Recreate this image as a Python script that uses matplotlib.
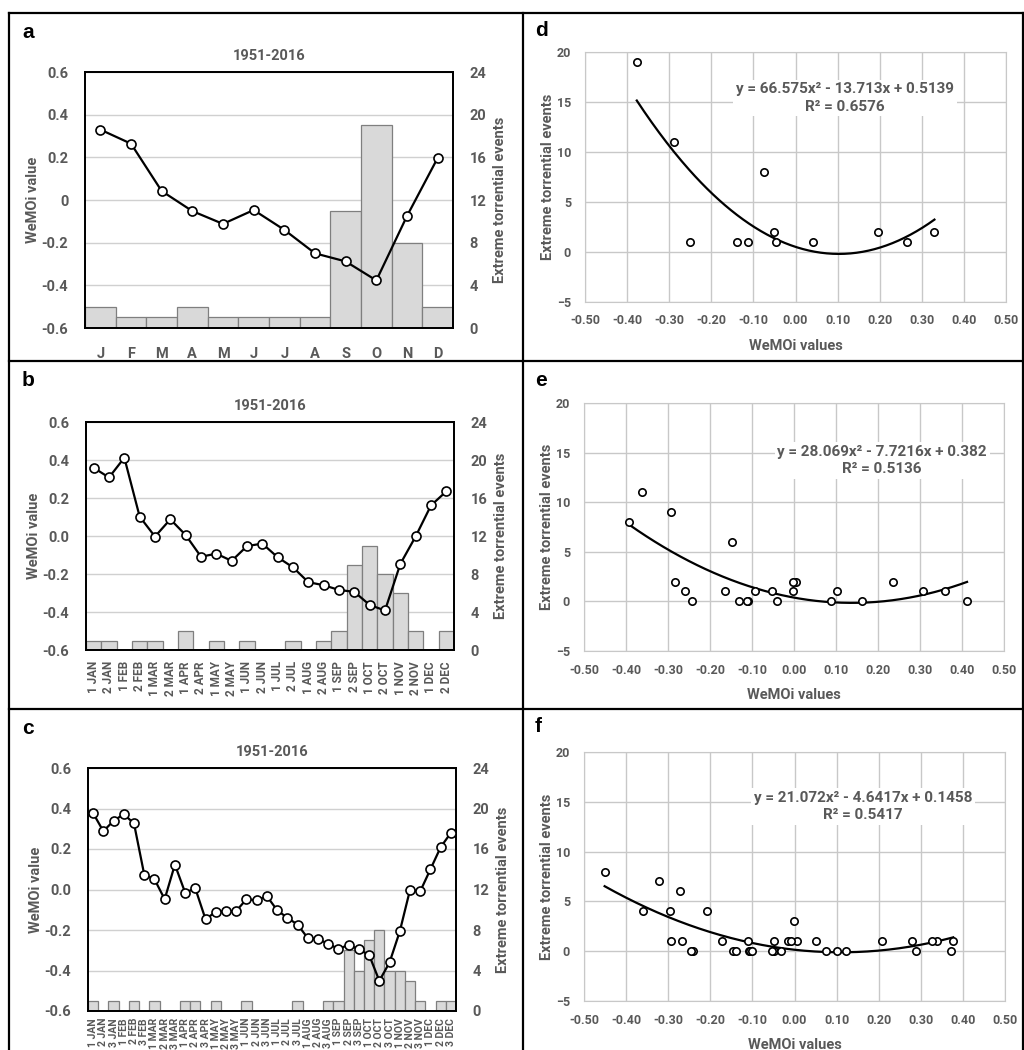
import numpy as np
import matplotlib.pyplot as plt
from matplotlib.lines import Line2D

plt.rcParams['font.family'] = ['Roboto', 'DejaVu Sans']
plt.rcParams['font.weight'] = 'bold'
plt.rcParams['axes.labelweight'] = 'bold'
plt.rcParams['axes.titleweight'] = 'bold'

GRAY = '#595959'

# --- monthly series (panel a / d)
months = ['J', 'F', 'M', 'A', 'M', 'J', 'J', 'A', 'S', 'O', 'N', 'D']
wemoi_month = [0.330, 0.264, 0.042, -0.052, -0.112, -0.047, -0.140, -0.250,
               -0.288, -0.377, -0.075, 0.197]
events_month = [2, 1, 1, 2, 1, 1, 1, 1, 11, 19, 8, 2]

# --- fortnightly series (panel b / e)
fortnights = ['1 JAN', '2 JAN', '1 FEB', '2 FEB', '1 MAR', '2 MAR', '1 APR', '2 APR',
              '1 MAY', '2 MAY', '1 JUN', '2 JUN', '1 JUL', '2 JUL', '1 AUG', '2 AUG',
              '1 SEP', '2 SEP', '1 OCT', '2 OCT', '1 NOV', '2 NOV', '1 DEC', '2 DEC']
wemoi_fortnight = [0.359, 0.308, 0.412, 0.102, -0.003, 0.088, 0.005, -0.109,
                   -0.093, -0.131, -0.053, -0.040, -0.112, -0.165, -0.243, -0.259,
                   -0.284, -0.294, -0.363, -0.392, -0.147, -0.002, 0.161, 0.235]
events_fortnight = [1, 1, 0, 1, 1, 0, 2, 0, 1, 0, 1, 0, 0, 1, 0, 1,
                    2, 9, 11, 8, 6, 2, 0, 2]

# --- ten-day series (panel c / f)
decades = ['1 JAN', '2 JAN', '3 JAN', '1 FEB', '2 FEB', '3 FEB', '1 MAR', '2 MAR', '3 MAR',
           '1 APR', '2 APR', '3 APR', '1 MAY', '2 MAY', '3 MAY', '1 JUN', '2 JUN', '3 JUN',
           '1 JUL', '2 JUL', '3 JUL', '1 AUG', '2 AUG', '3 AUG', '1 SEP', '2 SEP', '3 SEP',
           '1 OCT', '2 OCT', '3 OCT', '1 NOV', '2 NOV', '3 NOV', '1 DEC', '2 DEC', '3 DEC']
wemoi_decade = [0.377, 0.288, 0.339, 0.372, 0.326, 0.074, 0.051, -0.048, 0.123,
                -0.015, 0.005, -0.147, -0.110, -0.108, -0.106, -0.048, -0.053, -0.033,
                -0.102, -0.140, -0.173, -0.240, -0.245, -0.268, -0.294, -0.273, -0.296,
                -0.323, -0.451, -0.360, -0.207, -0.002, -0.009, 0.100, 0.209, 0.280]
events_decade = [1, 0, 1, 0, 1, 0, 1, 0, 0, 1, 1, 0, 1, 0, 0, 1, 0, 0,
                 0, 0, 1, 0, 0, 1, 1, 6, 4, 7, 8, 4, 4, 3, 1, 0, 1, 1]

# trendline coefficients as printed on the chart
coef_month = [66.575, -13.713, 0.5139]
coef_fortnight = [28.069, -7.7216, 0.382]
coef_decade = [21.072, -4.6417, 0.1458]
eq_month = 'y = 66.575x² - 13.713x + 0.5139\nR² = 0.6576'
eq_fortnight = 'y = 28.069x² - 7.7216x + 0.382\nR² = 0.5136'
eq_decade = 'y = 21.072x² - 4.6417x + 0.1458\nR² = 0.5417'

W, H = 1024, 1050
fig = plt.figure(figsize=(W / 100, H / 100), dpi=100)


def rect(x0, y0, x1, y1):
    # pixel box -> figure fraction
    return [x0 / W, 1 - y1 / H, (x1 - x0) / W, (y1 - y0) / H]


def series_panel(box, labels, wemoi, events, yfmt, xsize, rot, xpad):
    ax = fig.add_axes(rect(*box))
    axb = ax.twinx()
    x = np.arange(len(labels))
    axb.bar(x, events, width=1.0, color='#d9d9d9', edgecolor='#7f7f7f', linewidth=0.9, zorder=2)
    axb.set_ylim(0, 24)
    axb.set_yticks(range(0, 25, 4))
    axb.yaxis.grid(True, color='#d0d0d0', lw=1.0, zorder=0)
    axb.set_axisbelow(True)
    axb.tick_params(axis='y', length=0, pad=12, labelsize=10.5, labelcolor=GRAY)
    axb.set_ylabel('Extreme torrential events', color=GRAY, fontsize=10.5, labelpad=5)

    ax.set_zorder(axb.get_zorder() + 1)
    ax.patch.set_visible(False)
    ax.plot(x, wemoi, color='black', lw=1.6, marker='o', ms=6.5,
            mfc='white', mec='black', mew=1.2, zorder=3)
    ax.set_ylim(-0.6, 0.6)
    ax.set_xlim(-0.5, len(labels) - 0.5)
    yt = [0.6, 0.4, 0.2, 0.0, -0.2, -0.4, -0.6]
    ax.set_yticks(yt)
    ax.set_yticklabels([yfmt(v) for v in yt])
    ax.set_xticks(x)
    ax.set_xticklabels(labels, rotation=rot, fontsize=xsize, color=GRAY)
    ax.tick_params(axis='x', length=0, pad=xpad)
    ax.tick_params(axis='y', length=0, pad=12, labelsize=10.5, labelcolor=GRAY)
    ax.set_ylabel('WeMOi value', color=GRAY, fontsize=10.5, labelpad=1)
    ax.set_title('1951-2016', color=GRAY, fontsize=10.5, pad=9)
    for a in (ax, axb):
        for s in a.spines.values():
            s.set_color('black')
            s.set_linewidth(1.3)
    return ax


def scatter_panel(box, xs, ys, coef, eq, eq_pos):
    ax = fig.add_axes(rect(*box))
    ax.scatter(xs, ys, s=28, facecolors='white', edgecolors='black', linewidths=1.2, zorder=3)
    xf = np.linspace(min(xs), max(xs), 200)
    ax.plot(xf, np.polyval(coef, xf), color='black', lw=1.6, zorder=2)
    ax.set_xlim(-0.5, 0.5)
    ax.set_ylim(-5, 20)
    xt = np.round(np.arange(-0.5, 0.51, 0.1), 2)
    ax.set_xticks(xt)
    ax.set_xticklabels(['%.2f' % (v + 0.0) for v in xt])
    ax.set_yticks(range(-5, 21, 5))
    ax.grid(True, color='#c8c8c8', lw=1.0, zorder=0)
    ax.set_axisbelow(True)
    ax.tick_params(length=0, labelsize=9, labelcolor=GRAY)
    ax.tick_params(axis='x', pad=9)
    ax.tick_params(axis='y', pad=10)
    for s in ax.spines.values():
        s.set_color('#c8c8c8')
    ax.set_xlabel('WeMOi values', color=GRAY, fontsize=10.5, labelpad=8)
    ax.set_ylabel('Extreme torrential events', color=GRAY, fontsize=10.5, labelpad=1)
    ax.text(eq_pos[0], eq_pos[1], eq, ha='center', va='center', color=GRAY, fontsize=11,
            fontweight='bold', linespacing=1.3, zorder=4,
            bbox=dict(facecolor='white', edgecolor='none', pad=2))
    return ax


series_panel((85, 72, 453, 328), months, wemoi_month, events_month,
             lambda v: '0' if v == 0 else '%.1f' % v, 10.5, 0, 14)
series_panel((86, 422, 454, 650), fortnights, wemoi_fortnight, events_fortnight,
             lambda v: '%.1f' % v, 8.5, 90, 8)
series_panel((88, 768, 456, 1011), decades, wemoi_decade, events_decade,
             lambda v: '%.1f' % v, 7.5, 90, 5)

scatter_panel((585, 52, 1006, 302), wemoi_month, events_month, coef_month, eq_month, (0.118, 15.4))
scatter_panel((584, 403, 1004, 651), wemoi_fortnight, events_fortnight, coef_fortnight, eq_fortnight, (0.21, 14.2))
scatter_panel((584, 752, 1005, 1001), wemoi_decade, events_decade, coef_decade, eq_decade, (0.163, 14.5))

# panel letters
for letter, (px, py) in zip('abcdef', [(22, 33), (22, 380), (22, 728),
                                      (535, 30), (535, 380), (535, 727)]):
    fig.text(px / W, 1 - py / H, letter, fontsize=15, fontweight='bold',
             family=['Liberation Sans', 'DejaVu Sans'], ha='left', va='center')

# frame lines between panels
segs = [((9, 13), (1023, 13)), ((9, 13), (9, 1050)), ((1023, 13), (1023, 1050)),
        ((523, 13), (523, 1050)), ((9, 361), (1023, 361)), ((9, 709), (1023, 709))]
for (x0, y0), (x1, y1) in segs:
    fig.add_artist(Line2D([x0 / W, x1 / W], [1 - y0 / H, 1 - y1 / H],
                          transform=fig.transFigure, color='black', lw=1.6))

fig.savefig('out.png', dpi=100)
